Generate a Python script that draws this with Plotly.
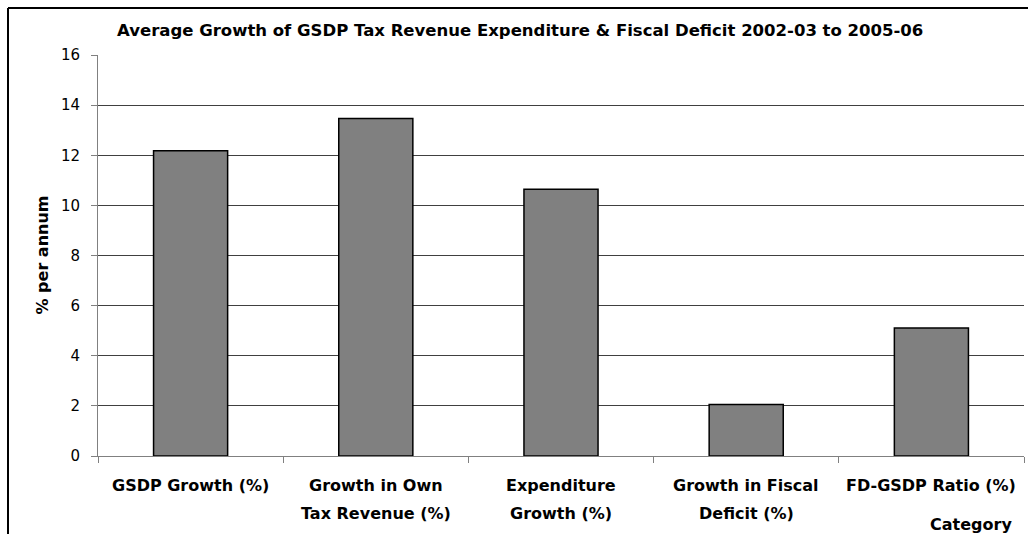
import plotly.graph_objects as go

categories = ["GSDP Growth (%)", "Growth in Own Tax Revenue (%)", "Expenditure Growth (%)",
              "Growth in Fiscal Deficit (%)", "FD-GSDP Ratio (%)"]
label_line1 = ["GSDP Growth (%)", "Growth in Own", "Expenditure", "Growth in Fiscal", "FD-GSDP Ratio (%)"]
label_line2 = ["", "Tax Revenue (%)", "Growth (%)", "Deficit (%)", ""]
values = [12.18, 13.47, 10.64, 2.05, 5.11]
y_ticks = [0, 2, 4, 6, 8, 10, 12, 14, 16]

title_text = "Average Growth of GSDP Tax Revenue Expenditure & Fiscal Deficit 2002-03 to 2005-06"
y_title = "% per annum"
x_title = "Category"

W, H = 1028, 534
L, R, T, B = 98, 4, 55, 78
pw = W - L - R
ph = H - T - B

def px_x(p):
    return (p - L) / pw

def px_y(p):
    return (H - B - p) / ph

BOLD = "DejaVu Sans"

fig = go.Figure()
fig.add_trace(go.Bar(
    x=categories, y=values,
    marker=dict(color="#808080", line=dict(color="#000000", width=1.5)),
    hoverinfo="skip",
))

annotations = []
for c, l1, l2 in zip(categories, label_line1, label_line2):
    annotations.append(dict(x=c, xref="x", y=px_y(485), yref="paper", text="<b>%s</b>" % l1,
                            showarrow=False, xanchor="center", yanchor="middle",
                            font=dict(family=BOLD, size=16, color="#000")))
    if l2:
        annotations.append(dict(x=c, xref="x", y=px_y(513), yref="paper", text="<b>%s</b>" % l2,
                                showarrow=False, xanchor="center", yanchor="middle",
                                font=dict(family=BOLD, size=16, color="#000")))
annotations.append(dict(x=px_x(971), xref="paper", y=px_y(524), yref="paper", text="<b>%s</b>" % x_title,
                        showarrow=False, xanchor="center", yanchor="middle",
                        font=dict(family=BOLD, size=16, color="#000")))
annotations.append(dict(x=px_x(42), xref="paper", y=0.5, yref="paper", text="<b>%s</b>" % y_title,
                        showarrow=False, xanchor="center", yanchor="middle", textangle=-90,
                        font=dict(family=BOLD, size=16, color="#000")))

shapes = [
    dict(type="line", xref="paper", yref="paper", x0=px_x(8), x1=px_x(8), y0=px_y(8), y1=px_y(H + 5),
         line=dict(color="#000", width=2)),
    dict(type="line", xref="paper", yref="paper", x0=px_x(8), x1=px_x(W + 5), y0=px_y(8), y1=px_y(8),
         line=dict(color="#000", width=2)),
]

fig.update_layout(
    width=W, height=H,
    margin=dict(l=L, r=R, t=T, b=B, pad=0),
    paper_bgcolor="white", plot_bgcolor="white",
    showlegend=False,
    bargap=0.6,
    title=dict(text="<b>%s</b>" % title_text, x=117 / W, xanchor="left", xref="container",
               y=1 - 30 / H, yanchor="middle", yref="container",
               font=dict(family=BOLD, size=16.5, color="#000")),
    xaxis=dict(type="category", showticklabels=False, ticks="outside", tickson="boundaries",
               ticklen=6, tickcolor="#808080", showline=True, linecolor="#808080", linewidth=1,
               showgrid=False, zeroline=False, range=[-0.5, 4.5]),
    yaxis=dict(range=[0, 16], tickvals=y_ticks, ticks="outside", ticklen=6, tickcolor="#808080",
               showline=True, linecolor="#808080", linewidth=1,
               showgrid=True, gridcolor="#404040", gridwidth=1, zeroline=False,
               tickfont=dict(family="DejaVu Sans", size=15, color="#000"),
               ticklabelstandoff=8),
    annotations=annotations,
    shapes=shapes,
)

fig.write_html("out.html")
